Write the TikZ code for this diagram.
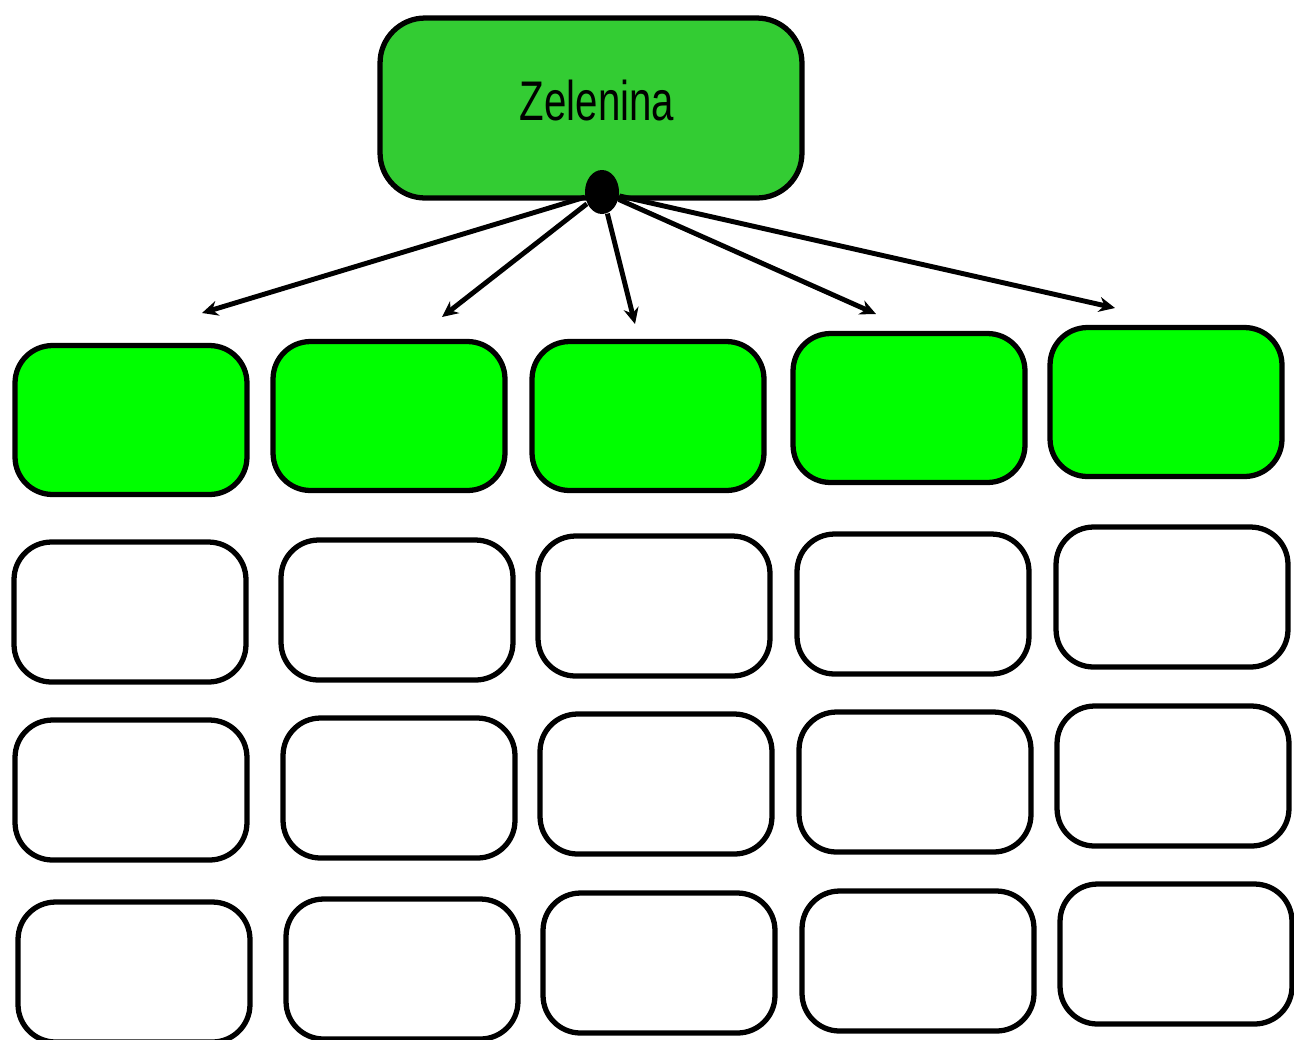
\documentclass[tikz,border=0pt]{standalone}
\usepackage{fontspec}
\newfontfamily\labelfont[FakeStretch=0.72]{Liberation Sans}
\usetikzlibrary{arrows, arrows.meta, shapes, positioning}
\definecolor{rootgreen}{HTML}{33CC33}
\definecolor{boxgreen}{HTML}{00FF00}

\begin{document}
\begin{tikzpicture}[x=0.02cm, y=-0.02cm, >={Stealth[length=0.32cm, width=0.3cm]}, thick]
 \tikzstyle{root} = [rectangle, draw, rounded corners=0.9cm, fill=rootgreen, line width=3pt, minimum width=8.44cm, minimum height=3.6cm, text depth=0.32cm, font=\labelfont\fontsize{31.8}{36}\selectfont]
 \tikzstyle{kind} = [rectangle, draw, rounded corners=0.75cm, fill=boxgreen, line width=3pt, minimum width=4.64cm, minimum height=2.98cm]
 \tikzstyle{slot} = [rectangle, draw, rounded corners=0.75cm, fill=white, line width=3pt, minimum width=4.64cm, minimum height=2.8cm]
 \tikzstyle{link} = [draw, ->, line width=2.8pt]
 \useasboundingbox (0,0) rectangle (1294,1039);

   \node[root] (Z) at (591,108) {\hspace*{0.24cm}Zelenina};
   \node[ellipse, fill, inner sep=0pt, minimum width=0.68cm, minimum height=0.88cm] (dot) at (602,192) {};

   \node[kind] (G1) at (131,420) {};
   \node[kind] (G2) at (389,416) {};
   \node[kind] (G3) at (648,416) {};
   \node[kind] (G4) at (909,408) {};
   \node[kind] (G5) at (1166,402) {};

   \node[slot] (A1) at (130,612) {};
   \node[slot] (A2) at (397,610) {};
   \node[slot] (A3) at (654,606) {};
   \node[slot] (A4) at (913,604) {};
   \node[slot] (A5) at (1172,597) {};

   \node[slot] (B1) at (131,790) {};
   \node[slot] (B2) at (399,788) {};
   \node[slot] (B3) at (656,784) {};
   \node[slot] (B4) at (915,782) {};
   \node[slot] (B5) at (1173,776) {};

   \node[slot] (C1) at (134,972) {};
   \node[slot] (C2) at (402,969) {};
   \node[slot] (C3) at (659,963) {};
   \node[slot] (C4) at (918,961) {};
   \node[slot] (C5) at (1176,954) {};

   \coordinate (t1) at (202,313);
   \coordinate (t2) at (442,317);
   \coordinate (t3) at (635,324);
   \coordinate (t4) at (876,314);
   \coordinate (t5) at (1115,308);

 \draw[link] (dot) -- (t1);
 \draw[link] (dot) -- (t2);
 \draw[link] (dot) -- (t3);
 \draw[link] (dot) -- (t4);
 \draw[link] (dot) -- (t5);
  \end{tikzpicture}
\end{document}
